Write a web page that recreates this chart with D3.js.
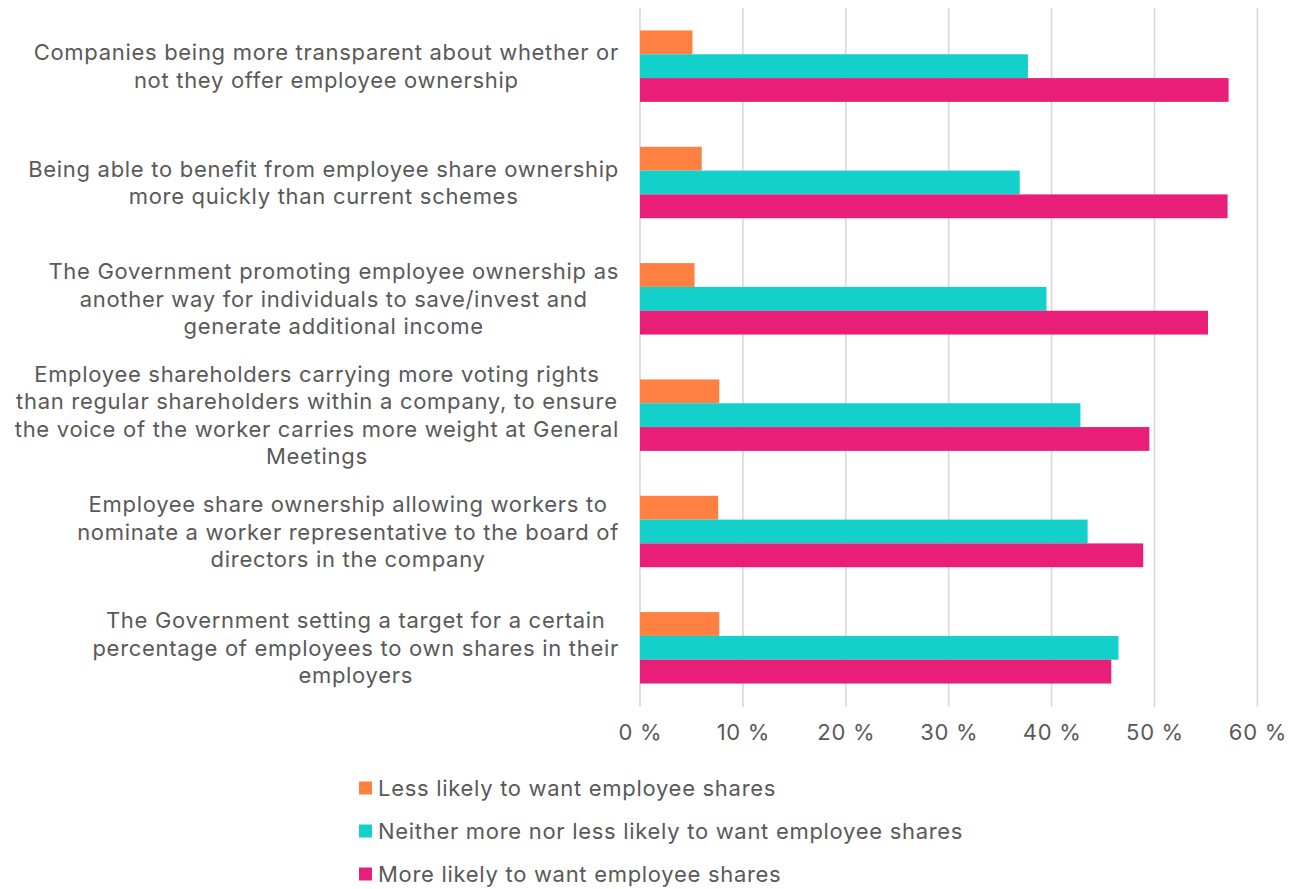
<!DOCTYPE html>
<html>
<head>
<meta charset="utf-8">
<script src="https://cdn.jsdelivr.net/npm/d3@7/dist/d3.min.js"></script>
<style>
  html, body { margin: 0; padding: 0; background: #ffffff; }
  svg { display: block; }
  text { font-family: Inter, Roboto, "Noto Sans", sans-serif; fill: #595959; letter-spacing: 0.7px; }
</style>
</head>
<body>
<svg id="chart" width="1299" height="889"></svg>
<script>
// Survey statements (top to bottom), with their line breaks
const categories = [
  "Companies being more transparent about whether or\nnot they offer employee ownership",
  "Being able to benefit from employee share ownership\nmore quickly than current schemes",
  "The Government promoting employee ownership as\nanother way for individuals to save/invest and\ngenerate additional income",
  "Employee shareholders carrying more voting rights\nthan regular shareholders within a company, to ensure\nthe voice of the worker carries more weight at General\nMeetings",
  "Employee share ownership allowing workers to\nnominate a worker representative to the board of\ndirectors in the company",
  "The Government setting a target for a certain\npercentage of employees to own shares in their\nemployers"
];

const seriesNames = [
  "Less likely to want employee shares",
  "Neither more nor less likely to want employee shares",
  "More likely to want employee shares"
];

// Share of respondents (%) per statement
const lessLikely    = [5.1, 6.0, 5.3, 7.7, 7.6, 7.7];
const neitherLikely = [37.7, 36.9, 39.5, 42.8, 43.5, 46.5];
const moreLikely    = [57.2, 57.1, 55.2, 49.5, 48.9, 45.8];

const xTicks = [0, 10, 20, 30, 40, 50, 60];

const colors = ["#FF8040", "#13D1CA", "#E91E78"];
const seriesValues = [lessLikely, neitherLikely, moreLikely];

const fontSize = 22;

const svg = d3.select("#chart");

const plot = { left: 640, right: 1257.4, top: 8, bottom: 706 };

const x = d3.scaleLinear().domain([0, 60]).range([plot.left, plot.right]);

const y0 = d3.scaleBand()
  .domain(d3.range(categories.length))
  .range([plot.top, plot.bottom])
  .paddingInner(0.386)
  .paddingOuter(0.193);

const y1 = d3.scaleBand()
  .domain(d3.range(seriesNames.length))
  .range([0, y0.bandwidth()]);

// Vertical gridlines
svg.append("g")
  .selectAll("line")
  .data(xTicks)
  .join("line")
  .attr("x1", d => x(d)).attr("x2", d => x(d))
  .attr("y1", plot.top).attr("y2", plot.bottom + 1)
  .attr("stroke", "#d9d9d9")
  .attr("stroke-width", 1.6);

// Bars
const groups = svg.append("g")
  .selectAll("g")
  .data(categories.map((c, i) => i))
  .join("g")
  .attr("transform", i => `translate(0,${y0(i)})`);

groups.selectAll("rect")
  .data(i => seriesValues.map((vals, s) => ({ s, v: vals[i] })))
  .join("rect")
  .attr("x", x(0))
  .attr("y", d => y1(d.s))
  .attr("width", d => x(d.v) - x(0))
  .attr("height", y1.bandwidth())
  .attr("fill", d => colors[d.s]);

// X axis labels
const xAxis = d3.axisBottom(x)
  .tickValues(xTicks)
  .tickSize(0)
  .tickPadding(0)
  .tickFormat(d => d + " %");

svg.append("g")
  .attr("transform", `translate(0,${plot.bottom + 18})`)
  .call(xAxis)
  .call(g => g.select(".domain").remove())
  .call(g => g.selectAll("text")
    .attr("font-size", fontSize)
    .attr("fill", "#595959")
    .attr("font-family", "Inter, Roboto, 'Noto Sans', sans-serif"));

// Category labels: each block is centred within its own width, right edge near the axis
const lineH = 27.5;
const labelRight = 619;
const labelG = svg.append("g");
categories.forEach((c, i) => {
  const lines = c.split("\n");
  const cy = y0(i) + y0.bandwidth() / 2;
  const t = labelG.append("text")
    .attr("font-size", fontSize)
    .attr("text-anchor", "middle")
    .attr("dominant-baseline", "central");
  const spans = lines.map((ln, k) =>
    t.append("tspan")
      .attr("y", cy + (k - (lines.length - 1) / 2) * lineH)
      .text(ln));
  const widths = spans.map(s => s.node().getComputedTextLength());
  const w = d3.max(widths);
  const cx = labelRight - w / 2;
  spans.forEach(s => s.attr("x", cx));
});

// Legend
const legend = svg.append("g");
seriesNames.forEach((name, s) => {
  const ly = 788 + s * 43;
  legend.append("rect")
    .attr("x", 359).attr("y", ly - 6.5)
    .attr("width", 13).attr("height", 13)
    .attr("fill", colors[s]);
  legend.append("text")
    .attr("x", 378).attr("y", ly)
    .attr("font-size", fontSize)
    .attr("dominant-baseline", "central")
    .text(name);
});
</script>
</body>
</html>
